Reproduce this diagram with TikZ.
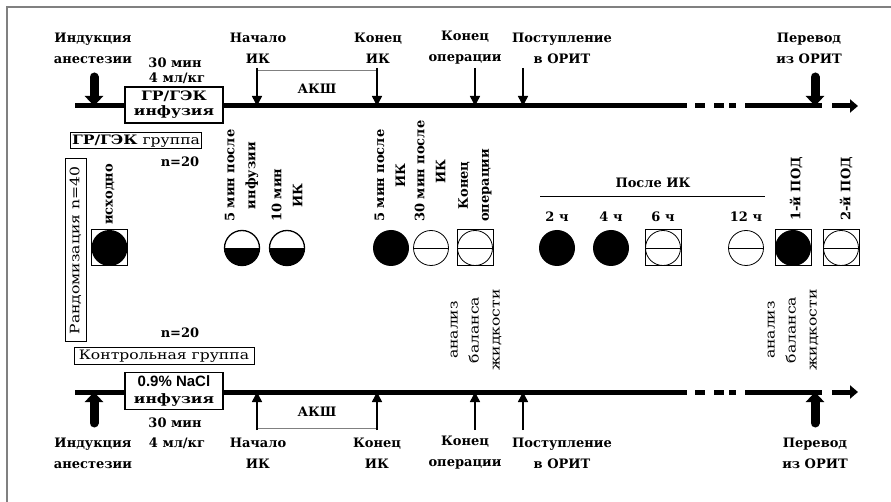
\documentclass[tikz,border=0pt]{standalone}
\usepackage{fontspec}
\setmainfont{DejaVu Serif}
\newfontfamily\widefont[FakeStretch=1.2]{DejaVu Serif}
\newfontfamily\sansbold{Liberation Sans}
\usepackage{tikz}
\usetikzlibrary{arrows.meta}
\tikzset{
	timeline/.style={line width=5pt},
	thinarrow/.style={line width=1.5pt, -{Triangle[length=10pt,width=10pt]}},
	fatarrow/.style={line width=9pt, line cap=round, -{Triangle[length=10pt,width=18pt]}},
	akshline/.style={gray, line width=1pt},
	lbl/.style={inner sep=0pt, align=center, font=\fontsize{13}{21}\selectfont\bfseries},
	rlbl/.style={lbl, font=\fontsize{13}{21}\selectfont\widefont},
	vlbl/.style={inner sep=0pt, align=center, rotate=90, anchor=west,
		font=\fontsize{13}{21}\selectfont\bfseries},
	frame box/.style={draw, fill=white, line width=1.2pt, inner sep=1pt},
	fullsym/.style={circle, fill=black, minimum size=36pt, inner sep=0pt},
	halfsym/.style={circle, draw, line width=1.3pt, minimum size=35pt, inner sep=0pt,
		path picture={\fill (path picture bounding box.west) rectangle (path picture bounding box.south east);}},
	linesym/.style={circle, draw, line width=0.8pt, minimum size=35pt, inner sep=0pt,
		path picture={\draw (path picture bounding box.west) -- (path picture bounding box.east);}},
	sqsym/.style={rectangle, draw, line width=1pt, minimum size=36pt, inner sep=0pt},
}

\begin{document}
\begin{tikzpicture}[x=1pt, y=-1pt]
\useasboundingbox (0,0) rectangle (891,502);
\draw [gray, line width=1.5pt] (7,502) -- (7,7) -- (891,7);

%timelines
\foreach \y in {106, 392} {
	\draw [timeline] (75,\y) -- (687,\y);
	\foreach \a/\b in {695/705, 714/724, 729/736}
		\draw [timeline] (\a,\y) -- (\b,\y);
	\draw [timeline] (745,\y) -- (822,\y);
	\draw [timeline, -{Triangle[length=8pt,width=13pt]}] (832,\y) -- (858,\y);
}

\coordinate (tlA) at (0,106);
\coordinate (tlB) at (0,392);
\coordinate (fatA) at (0,77);
\coordinate (fatB) at (0,423);
\coordinate (thinA) at (0,68);
\coordinate (thinB) at (0,430);
\coordinate (akshA) at (0,71);
\coordinate (akshB) at (0,428);
\foreach \n/\x in {ind/94, nach/257, kon/377, oper/475, post/523, perev/815}
	\coordinate (\n) at (\x,0);

% GR/GEK group (top)
\node [lbl] at (93,48) (indA) {Индукция\\анестезии};
\node [lbl] at (258,48) (nachA) {Начало\\ИК};
\node [lbl] at (378,48) (konA) {Конец\\ИК};
\node [lbl] at (465,48) (operA) {Конец\\операции};
\node [lbl] at (562,48) (postA) {Поступление\\в ОРИТ};
\node [lbl] at (809,48) (perevA) {Перевод\\из ОРИТ};
\node [lbl] at (175,63) (timeA) {30 мин};
\node [lbl] at (177,78) (doseA) {4 мл/кг};
\node [lbl] at (317,89) (akshLA) {АКШ};

\draw [akshline] (nach |- akshA) -- (kon |- akshA);
\draw [fatarrow] (ind |- fatA) -- (ind |- tlA);
\foreach \n in {nach, kon, oper, post}
	\draw [thinarrow] (\n |- thinA) -- (\n |- tlA);
\draw [fatarrow] (perev |- fatA) -- (perev |- tlA);

\node [frame box, lbl, font=\fontsize{13}{15}\selectfont\widefont\bfseries,
	minimum width=98pt, minimum height=36pt] at (174,105) (infA) {ГР/ГЭК\\инфузия};

\node [frame box, rlbl, line width=1pt, inner sep=0.5pt, minimum width=131pt, minimum height=16pt]
	at (136,141) (grpA) {{\bfseries ГР/ГЭК} группа};
\node [lbl] at (180,162) (nA) {n=20};

\node [frame box, rlbl, line width=1pt, rotate=90, inner sep=0.5pt,
	minimum width=183pt, minimum height=21pt] at (75.5,250.5) (rand) {Рандомизация n=40};

%measurement points
\foreach \x in {109.5, 475, 663, 793, 841}
	\node [sqsym] at (\x,248) {};
\foreach \x/\kind [count=\i] in {109.5/fullsym, 242/halfsym, 287/halfsym, 391/fullsym,
	431/linesym, 475/linesym, 557/fullsym, 611/fullsym, 663/linesym, 746/linesym,
	793/fullsym, 841/linesym}
	\node [\kind] at (\x,248) (s\i) {};

\node [vlbl] at (110,225) (v1) {исходно};
\node [vlbl] at (241.5,222) (v2) {5 мин после\\инфузии};
\node [vlbl] at (287,222) (v3) {10 мин\\ИК};
\node [vlbl] at (390,222) (v4) {5 мин после\\ИК};
\node [vlbl] at (430,222) (v5) {30 мин после\\ИК};
\node [vlbl] at (475,222) (v6) {Конец\\операции};
\node [vlbl] at (796,221) (v7) {1-й ПОД};
\node [vlbl] at (846,221) (v8) {2-й ПОД};

\node [lbl] at (653,183) (posle) {После ИК};
\draw [line width=1pt] (540,197) -- (765,197);
\foreach \x/\h in {557/2, 611/4, 663/6, 746/12}
	\node [lbl] at (\x,217) (h\h) {\h\ ч};

\node [rlbl, rotate=90] at (476,330) (balA) {анализ\\баланса\\жидкости};
\node [rlbl, rotate=90] at (793,330) (balB) {анализ\\баланса\\жидкости};

% control group (bottom)
\node [lbl] at (180,333) (nB) {n=20};
\node [frame box, rlbl, line width=1pt, inner sep=0.5pt, minimum width=180pt, minimum height=17pt]
	at (164,356) (grpB) {Контрольная группа};

\node [frame box, lbl, font=\fontsize{13}{17}\selectfont\widefont\bfseries,
	minimum width=98pt, minimum height=37pt] at (174,391) (infB)
	{{\sansbold\fontsize{15}{17}\selectfont 0.9\% NaCl}\\инфузия};

\draw [akshline] (nach |- akshB) -- (kon |- akshB);
\draw [fatarrow] (ind |- fatB) -- (ind |- tlB);
\foreach \n in {nach, kon, oper, post}
	\draw [thinarrow] (\n |- thinB) -- (\n |- tlB);
\draw [fatarrow] (perev |- fatB) -- (perev |- tlB);

\node [lbl] at (317,412) (akshLB) {АКШ};
\node [lbl] at (175,423) (timeB) {30 мин};
\node [lbl] at (93,453) (indB) {Индукция\\анестезии};
\node [lbl] at (177,443) (doseB) {4 мл/кг};
\node [lbl] at (258,453) (nachB) {Начало\\ИК};
\node [lbl] at (377,453) (konB) {Конец\\ИК};
\node [lbl] at (465,453) (operB) {Конец\\операции};
\node [lbl] at (562,453) (postB) {Поступление\\в ОРИТ};
\node [lbl] at (815,453) (perevB) {Перевод\\из ОРИТ};

\end{tikzpicture}
\end{document}
